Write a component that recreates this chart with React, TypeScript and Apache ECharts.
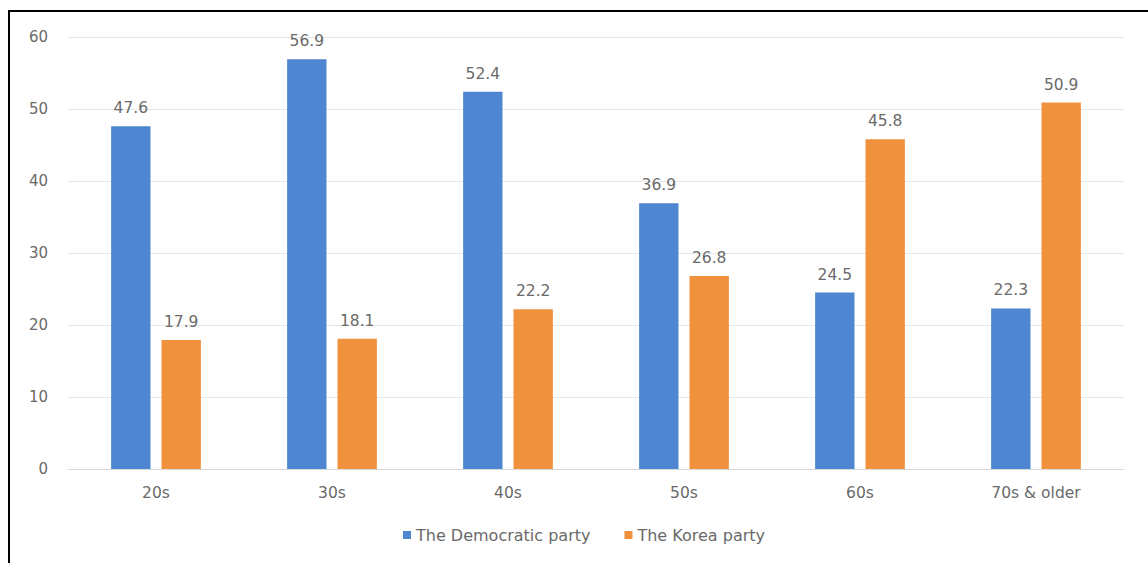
import React, { useEffect, useRef } from "react";
import * as echarts from "echarts";

const categories = ["20s", "30s", "40s", "50s", "60s", "70s & older"];
const democratic = [47.6, 56.9, 52.4, 36.9, 24.5, 22.3];
const korea = [17.9, 18.1, 22.2, 26.8, 45.8, 50.9];
const seriesNames = ["The Democratic party", "The Korea party"];

export default function App() {
  const ref = useRef<HTMLDivElement>(null);
  useEffect(() => {
    if (!ref.current) return;
    const chart = echarts.init(ref.current, null, { renderer: "svg" });
    const font = "'DejaVu Sans', sans-serif";
    const textColor = "#6a6a6a";
    const labelStyle = {
      show: true,
      position: "top" as const,
      color: textColor,
      fontSize: 15.5,
      fontFamily: font,
      distance: 10,
      formatter: (p: any) => p.value.toFixed(1),
    };
    chart.setOption({
      animation: false,
      backgroundColor: "#ffffff",
      textStyle: { fontFamily: font },
      graphic: [
        {
          type: "rect",
          shape: { x: 9, y: 11, width: 1300, height: 700 },
          style: { fill: "none", stroke: "#000", lineWidth: 2 },
          silent: true,
        },
      ],
      grid: { left: 68, right: 24, top: 37, bottom: 94 },
      legend: {
        data: seriesNames,
        top: 522,
        left: 398,
        itemWidth: 8,
        itemHeight: 8,
        itemGap: 34,
        icon: "rect",
        textStyle: { color: textColor, fontSize: 16, fontFamily: font },
      },
      xAxis: {
        type: "category",
        data: categories,
        axisLine: { lineStyle: { color: "#d9d9d9" } },
        axisTick: { show: false },
        axisLabel: { color: textColor, fontSize: 15.5, margin: 16, fontFamily: font },
      },
      yAxis: {
        type: "value",
        min: 0,
        max: 60,
        interval: 10,
        axisLine: { show: false },
        axisTick: { show: false },
        splitLine: { lineStyle: { color: "#e6e6e6" } },
        axisLabel: { color: textColor, fontSize: 15, margin: 20, fontFamily: font },
      },
      series: [
        {
          name: seriesNames[0],
          type: "bar",
          data: democratic,
          itemStyle: { color: "#4f86d1" },
          barGap: "28%",
          barCategoryGap: "49%",
          label: labelStyle,
        },
        {
          name: seriesNames[1],
          type: "bar",
          data: korea,
          itemStyle: { color: "#f0913d" },
          barGap: "28%",
          barCategoryGap: "49%",
          label: labelStyle,
        },
      ],
    });
    return () => chart.dispose();
  }, []);
  return (
    <div
      ref={ref}
      style={{ position: "absolute", left: 0, top: 0, width: 1148, height: 563 }}
    />
  );
}
